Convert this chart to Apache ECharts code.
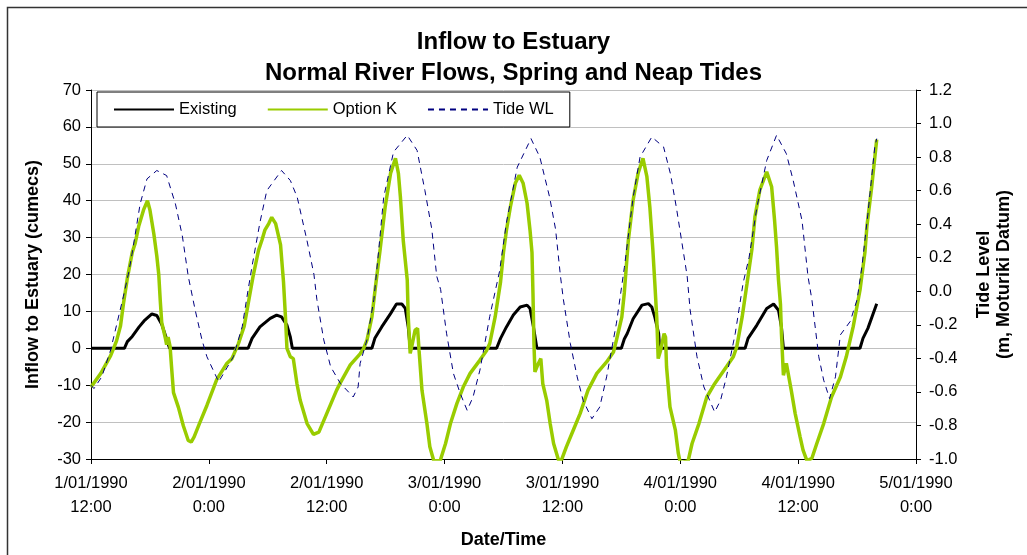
<!DOCTYPE html>
<html>
<head>
<meta charset="utf-8">
<script src="https://cdn.jsdelivr.net/npm/echarts@6/dist/echarts.min.js"></script>
<style>
  html, body { margin: 0; padding: 0; background: #fff; }
  #chart { width: 1027px; height: 555px; }
</style>
</head>
<body>
<div id="chart"></div>
<script>
// hours since 1/01/1990 12:00
const existHours = [0, 3.4, 3.7, 4.2, 4.9, 5.4, 6.2, 6.7, 7.2, 7.7, 8.0,
  16.0, 16.4, 17.2, 18.25, 18.9, 19.4, 19.95, 20.3, 20.5,
  28.6, 28.9, 29.6, 30.5, 31.1, 31.65, 32.0, 32.3, 32.5,
  41.3, 41.7, 42.3, 43.0, 43.7, 44.4, 44.7, 45.05, 45.4,
  54.0, 54.3, 54.6, 55.2, 56.1, 56.75, 57.1, 57.4, 57.8, 57.9,
  66.6, 66.9, 67.8, 68.8, 69.5, 70.0, 70.3, 70.5,
  78.3, 78.6, 79.1, 80.0]
const existFlow = [0, 0, 1.8, 3.2, 5.8, 7.4, 9.3, 8.9, 6.5, 2.5, 0,
  0, 2.7, 5.8, 8.1, 9.0, 8.5, 6.3, 3, 0,
  0, 2.7, 5.8, 9.4, 12.0, 12.0, 10.8, 5.8, 0,
  0, 2.7, 5.8, 9.0, 11.2, 11.7, 10.8, 5.8, 0,
  0, 2.5, 4.0, 8.0, 11.7, 12.1, 11.2, 8.5, 4.0, 0,
  0, 2.7, 6.3, 10.8, 12.0, 10.3, 5.8, 0,
  0, 2.7, 5.4, 12.1]

const optHours = [0, 1.0, 2.0, 2.3, 2.6, 3.0, 3.3, 3.7, 4.2, 4.5, 4.85, 5.35, 5.75, 6.0, 6.4, 6.7, 6.9, 7.05, 7.2, 7.55, 7.7, 7.85, 8.05,
  8.2, 8.4, 8.9, 9.4, 9.9, 10.2, 10.5, 11.1, 11.8, 12.8, 13.8, 14.35, 15.0, 15.6, 16.0, 16.5, 17.06, 17.4, 17.7, 18.1, 18.4,
  18.8, 19.3, 19.6, 19.8, 19.95, 20.3, 20.6, 20.97, 21.3, 22.0, 22.65, 23.2, 24.0, 25.0, 25.4, 26.4, 27.4, 27.75, 28.1, 28.6,
  29.0, 29.45, 29.95, 30.5, 31.0, 31.3, 31.5, 31.8, 32.2, 32.3, 32.5, 32.65, 33.0, 33.25, 33.4, 33.7, 34.2, 34.5, 34.9, 35.55,
  36.1, 36.6, 37.25, 37.9, 38.6, 39.6, 40.3, 40.6, 41.15, 41.7, 42.0, 42.3, 42.7, 43.2, 43.6, 44.0, 44.4, 44.7, 44.9, 45.0,
  45.1, 45.2, 45.55, 45.8, 46.0, 46.4, 46.75, 47.1, 47.6, 47.9, 48.4, 49.1, 49.8, 50.6, 51.5, 52.5, 53.2, 53.5, 54.05, 54.3,
  54.7, 55.2, 55.7, 56.2, 56.6, 56.9, 57.2, 57.4, 57.6, 57.75, 58.0, 58.35, 58.5, 58.6, 58.95, 59.5, 59.8, 60.0, 60.8, 61.2,
  61.9, 62.7, 63.5, 64.7, 65.4, 65.75, 66.3, 66.8, 67.3, 67.6, 68.1, 68.8, 69.3, 69.6, 69.8, 70.0, 70.2, 70.3, 70.5, 70.8,
  71.0, 71.3, 71.7, 72.2, 72.5, 72.9, 73.4, 73.9, 74.6, 75.4, 76.3, 76.9, 77.6, 78.3, 78.8, 79.0, 79.5, 80.0]
const optFlow = [-10.5, -6.8, -2.0, 0, 2, 6, 12, 19, 26, 28.5, 33, 37.5, 40, 37.5, 31, 25, 20, 13, 7, 3, 1, 3, 0.5,
  -5, -12, -16, -21, -25, -25.4, -24, -20, -15.5, -8.5, -4.2, -2.8, 1.2, 6, 12, 19.5, 26.6, 29.3, 32, 33.8, 35.5,
  33.8, 28, 18, 8.5, 0, -2.3, -2.8, -9.6, -14.1, -20.4, -23.3, -22.7, -17.7, -11.4, -9.3, -4.5, -1.5, -0.1, 2.2, 8.5,
  17.5, 27, 38.3, 47.4, 51.5, 47.4, 41.1, 29, 18.5, 8.5, -1.4, 0.4, 4.9, 5.4, -0.5, -11.4, -20.4, -26.7, -30.5, -30.5,
  -25.8, -20.4, -15.0, -10.5, -6.8, -3.2, -0.5, 1.3, 8.5, 18, 26, 32, 38.3, 44.7, 46.9, 44.7, 39.3, 32, 26, 15,
  1.3, -6.4, -4.1, -2.8, -9.6, -14.1, -20.4, -25.8, -30.3, -30.3, -26.7, -22.2, -17.7, -11.4, -6.8, -3.7, -1.0, 2.2, 8.5, 15,
  29, 40.2, 47.4, 51.5, 46.5, 38.3, 27, 18, 8.5, -2.8, -0.5, 4.0, 3, -5, -15.9, -22.2, -28.5, -31, -30.5, -25.8,
  -20.4, -13.2, -9.6, -5.0, -2.3, 0.4, 8.5, 17.6, 27, 35.6, 42.9, 47.8, 43.8, 34.7, 27.5, 18.5, 12, 4.0, -7.3, -4.1,
  -4.6, -11.4, -17.7, -24.0, -27.6, -30.5, -29.8, -25.8, -20.4, -13.2, -7.8, -2.3, 5.8, 15.8, 26, 33, 44, 56.6]

const tideHours = [0, 0.3, 1.1, 2.0, 2.65, 3.3, 3.83, 4.17, 5.0, 5.7, 6.7, 7.7, 8.6, 9.3, 9.9, 10.6, 11.3, 11.8, 13.0,
  14.5, 15.4, 16.0, 16.4, 17.2, 17.9, 19.4, 20.3, 21.0, 22.0, 22.7, 23.0, 23.7, 24.4, 25.4, 26.7, 27.2, 27.4, 28.1, 28.8,
  29.3, 29.8, 30.8, 32.2, 33.2, 34.0, 34.7, 35.2, 35.6, 36.2, 36.9, 37.6, 38.3, 38.9, 39.6, 40.6, 41.6, 42.3, 43.4, 44.8,
  45.7, 46.7, 47.3, 47.8, 48.1, 48.8, 49.5, 50.1, 51.0, 51.8, 52.5, 53.5, 54.3, 55.2, 55.9, 57.1, 58.3, 59.0, 59.6, 60.3,
  60.7, 61.0, 61.7, 62.4, 63.5, 64.1, 64.7, 65.6, 66.4, 67.0, 67.8, 68.8, 69.8, 70.8, 71.5, 72.4, 72.8, 73.0, 73.4, 74.1,
  74.6, 75.2, 75.8, 76.3, 77.3, 78.0, 78.5, 79.1, 79.8, 80.0]
const tideLevel = [-0.56, -0.58, -0.51, -0.35, -0.19, -0.03, 0.11, 0.22, 0.52, 0.67, 0.72, 0.69, 0.52, 0.33, 0.09, -0.11, -0.29, -0.39, -0.54,
  -0.39, -0.21, 0.01, 0.15, 0.41, 0.60, 0.72, 0.66, 0.56, 0.30, 0.10, -0.05, -0.29, -0.45, -0.55, -0.63, -0.57, -0.43, -0.29, -0.05,
  0.25, 0.56, 0.83, 0.93, 0.84, 0.60, 0.37, 0.09, 0.01, -0.25, -0.49, -0.61, -0.71, -0.63, -0.47, -0.15, 0.12, 0.41, 0.74, 0.91,
  0.80, 0.56, 0.37, 0.09, -0.05, -0.31, -0.51, -0.65, -0.76, -0.69, -0.51, -0.19, 0.14, 0.56, 0.80, 0.92, 0.86, 0.70, 0.50, 0.24,
  0.09, -0.11, -0.39, -0.57, -0.72, -0.65, -0.51, -0.25, 0.05, 0.2, 0.50, 0.78, 0.93, 0.82, 0.66, 0.42, 0.2, 0.09, -0.05, -0.39,
  -0.53, -0.64, -0.51, -0.26, -0.18, -0.05, 0.15, 0.46, 0.86, 0.91]

const FONT = 'Liberation Sans, Arial, sans-serif'

function zip(xs, ys) {
  return xs.map((x, i) => [x, ys[i]])
}

const chart = echarts.init(document.getElementById('chart'))

const option = {
  animation: false,
  backgroundColor: '#fff',
  textStyle: { fontFamily: FONT, color: '#000' },
  title: {
    text: 'Inflow to Estuary\nNormal River Flows, Spring and Neap Tides',
    left: 'center',
    top: 22,
    textStyle: { fontFamily: FONT, fontSize: 24, fontWeight: 'bold', color: '#000', lineHeight: 31 }
  },
  graphic: [
    {
      type: 'rect',
      shape: { x: 7.5, y: 7.5, width: 1040, height: 560 },
      style: { fill: 'none', stroke: '#333', lineWidth: 1.5 },
      silent: true
    }
  ],
  legend: {
    left: 97,
    top: 92,
    padding: [9, 16, 9, 16],
    itemGap: 30,
    itemWidth: 60,
    itemHeight: 14,
    borderColor: '#000',
    borderWidth: 1,
    backgroundColor: '#fff',
    selectedMode: false,
    itemStyle: { opacity: 0 },
    textStyle: { fontFamily: FONT, fontSize: 16.5, color: '#000' },
    data: ['Existing', 'Option K', 'Tide WL']
  },
  grid: {
    left: 91,
    right: 111,
    top: 90,
    bottom: 96
  },
  xAxis: {
    type: 'value',
    min: 0,
    max: 84,
    interval: 12,
    name: 'Date/Time',
    nameLocation: 'middle',
    nameGap: 72,
    nameTextStyle: { fontFamily: FONT, fontSize: 18, fontWeight: 'bold', color: '#000' },
    axisLine: { show: true, onZero: false, lineStyle: { color: '#000', width: 1 } },
    axisTick: { show: true, length: 5, lineStyle: { color: '#000' } },
    splitLine: { show: false },
    axisLabel: {
      margin: 12,
      lineHeight: 24,
      fontSize: 16.5,
      color: '#000',
      showMinLabel: true,
      showMaxLabel: true,
      formatter: function (v) {
        const t = v + 12
        const day = 1 + Math.floor(t / 24)
        const hr = t % 24
        return day + '/01/1990\n' + hr + ':00'
      }
    }
  },
  yAxis: [
    {
      type: 'value',
      min: -30,
      max: 70,
      interval: 10,
      name: 'Inflow to Estuary (cumecs)',
      nameLocation: 'middle',
      nameRotate: 90,
      nameGap: 49,
      nameTextStyle: { fontFamily: FONT, fontSize: 18, fontWeight: 'bold', color: '#000' },
      axisLine: { show: true, onZero: false, lineStyle: { color: '#000', width: 1 } },
      axisTick: { show: true, length: 5, lineStyle: { color: '#000' } },
      axisLabel: { margin: 10, fontSize: 16.5, color: '#000' },
      splitLine: { show: true, lineStyle: { color: '#c0c0c0', width: 1 } }
    },
    {
      type: 'value',
      min: -1.0,
      max: 1.2,
      interval: 0.2,
      position: 'right',
      name: 'Tide Level\n(m, Moturiki Datum)',
      nameLocation: 'middle',
      nameRotate: 90,
      nameGap: 58,
      nameTextStyle: { fontFamily: FONT, fontSize: 18, fontWeight: 'bold', color: '#000', lineHeight: 20 },
      axisLine: { show: true, onZero: false, lineStyle: { color: '#000', width: 1 } },
      axisTick: { show: true, length: 5, lineStyle: { color: '#000' } },
      axisLabel: {
        margin: 13,
        fontSize: 16.5,
        color: '#000',
        formatter: (v) => v.toFixed(1)
      },
      splitLine: { show: false }
    }
  ],
  series: [
    {
      name: 'Existing',
      type: 'line',
      yAxisIndex: 0,
      symbol: 'none',
      showSymbol: false,
      lineStyle: { color: '#000', width: 3 },
      itemStyle: { color: '#000' },
      data: zip(existHours, existFlow)
    },
    {
      name: 'Option K',
      type: 'line',
      yAxisIndex: 0,
      symbol: 'none',
      showSymbol: false,
      lineStyle: { color: '#99cc00', width: 3.5 },
      itemStyle: { color: '#99cc00' },
      data: zip(optHours, optFlow)
    },
    {
      name: 'Tide WL',
      type: 'line',
      yAxisIndex: 1,
      symbol: 'none',
      showSymbol: false,
      lineStyle: { color: '#000080', width: 1, type: [6, 5] },
      itemStyle: { color: '#000080' },
      data: zip(tideHours, tideLevel)
    }
  ]
}

chart.setOption(option)
</script>
</body>
</html>
